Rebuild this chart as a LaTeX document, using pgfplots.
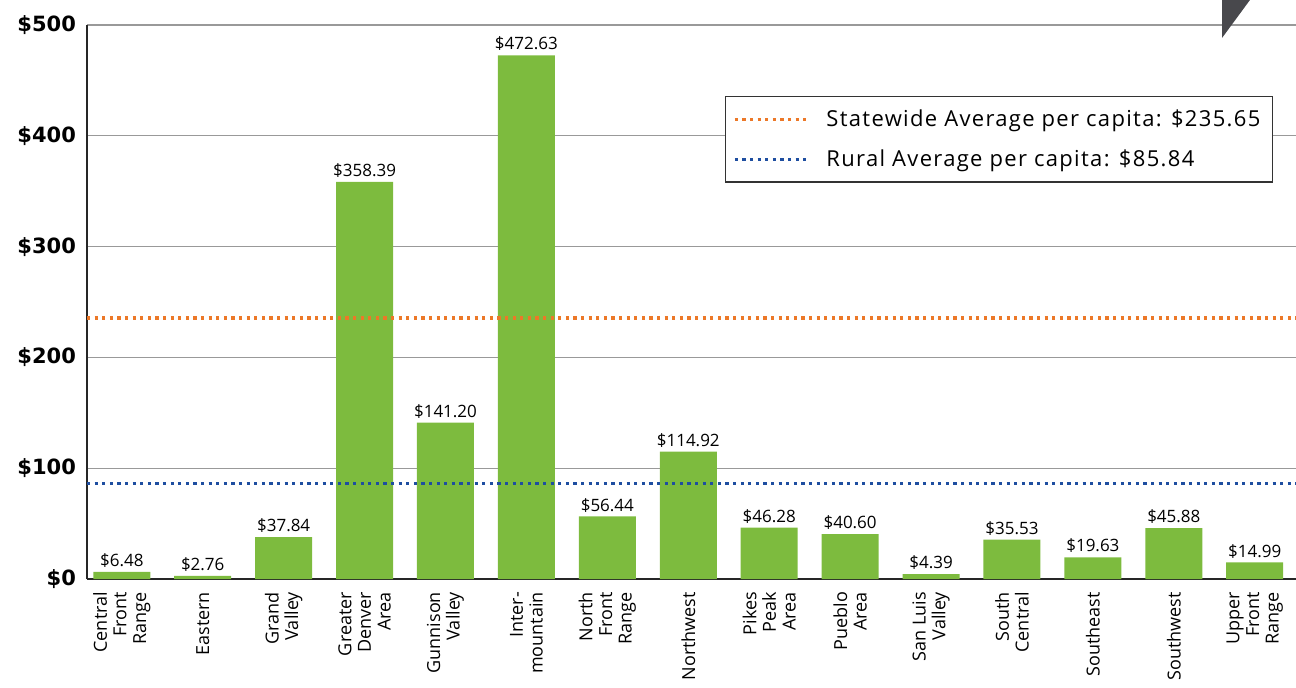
\documentclass[border=0pt]{standalone}
\usepackage{pgfplots}
\pgfplotsset{compat=1.18}
\usepackage{fontspec}
\setmainfont{Open Sans}
\newfontfamily\tickfont{DejaVu Sans}
\newfontfamily\legfont[LetterSpace=6]{Open Sans}
\definecolor{bargreen}{RGB}{125,187,62}
\definecolor{avgorange}{RGB}{236,120,40}
\definecolor{avgblue}{RGB}{30,78,160}
\definecolor{tri}{RGB}{72,72,76}
\begin{document}
\begin{tikzpicture}
\useasboundingbox (-43.5pt,-54pt) rectangle (604.5pt,289.5pt);
\begin{axis}[
  at={(0pt,0pt)}, anchor=south west,
  scale only axis, width=604.5pt, height=277pt,
  xmin=-0.43, xmax=14.51, ymin=0, ymax=500,
  axis x line*=bottom, axis y line*=left,
  axis line style={-, line width=1.4pt, black!85},
  ymajorgrids, grid style={black!40, line width=0.6pt},
  major tick length=0pt,
  ytick={0,100,200,300,400,500},
  yticklabels={\$0,\$100,\$200,\$300,\$400,\$500},
  yticklabel style={font=\tickfont\bfseries\fontsize{10.5}{12}\selectfont, xshift=-2pt},
  xtick={0,...,14},
  xticklabels={{Central\\Front\\Range},{Eastern},{Grand\\Valley},{Greater\\Denver\\Area},{Gunnison\\Valley},{Inter-\\mountain},{North\\Front\\Range},{Northwest},{Pikes\\Peak\\Area},{Pueblo\\Area},{San Luis\\Valley},{South\\Central},{Southeast},{Southwest},{Upper\\Front\\Range}},
  xticklabel style={rotate=90, anchor=east, align=right, font=\fontsize{9}{9.8}\selectfont, xshift=-3pt},
  legend style={at={(rel axis cs:0.981,0.872)}, anchor=north east, draw=black!80, line width=0.7pt,
    font=\legfont\fontsize{11}{13}\selectfont, row sep=6pt, inner xsep=4pt, inner ysep=4.5pt},
  legend cell align=left,
  legend image code/.code={\draw[#1] (0pt,0pt) -- (37.5pt,0pt); \path (43pt,0pt);},
]
\addplot[ybar, bar width=28.5pt, fill=bargreen, draw=none, forget plot,
  nodes near coords={\$\pgfmathprintnumber[fixed,fixed zerofill,precision=2,assume math mode=true]{\pgfplotspointmeta}},
  nodes near coords style={font=\fontsize{8.5}{9}\selectfont, black, inner sep=2pt, yshift=0pt}]
coordinates {
(0,6.48) (1,2.76) (2,37.84) (3,358.39) (4,141.20) (5,472.63) (6,56.44) (7,114.92)
(8,46.28) (9,40.60) (10,4.39) (11,35.53) (12,19.63) (13,45.88) (14,14.99)};
\addplot[avgorange, line width=1.6pt, dash pattern=on 1.6pt off 2.2pt] coordinates {(-0.43,235.65) (14.51,235.65)};
\addlegendentry{Statewide Average per capita: \$235.65}
\addplot[avgblue, line width=1.6pt, dash pattern=on 1.6pt off 2.2pt] coordinates {(-0.43,85.84) (14.51,85.84)};
\addlegendentry{Rural Average per capita: \$85.84}
\end{axis}
\fill[tri] (567.5pt,270.5pt) -- (567.5pt,300pt) -- (589.2pt,300pt) -- cycle;
\end{tikzpicture}
\end{document}
